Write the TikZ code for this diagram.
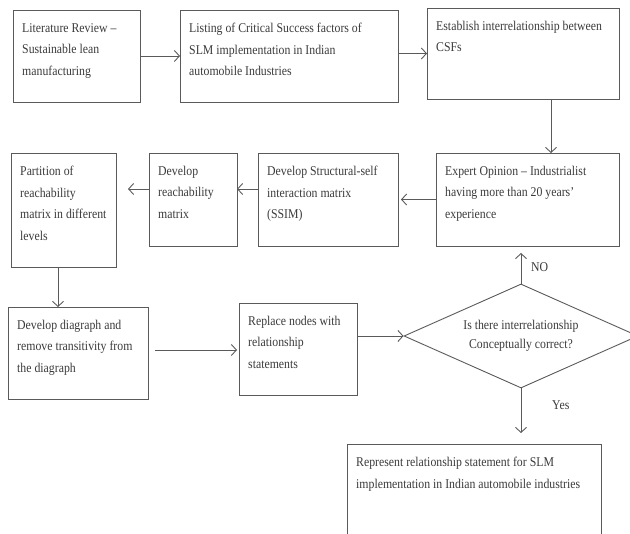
\documentclass[tikz,border=0pt]{standalone}
\usepackage{fontspec}
\setmainfont{Liberation Serif}[FakeStretch=0.88]
\usetikzlibrary{arrows.meta,shapes.geometric,calc}
\definecolor{ink}{HTML}{3A3A3A}
\definecolor{edge}{HTML}{5A5A5A}
\newcommand\flowbox[6]{%
  \node[box, anchor=north west, minimum width={(#4-#2)*1pt}, minimum height={(#5-#3)*1pt}] (#1) at (#2,#3) {};
  \node[txt, anchor=north west] (#1t) at ([xshift=9pt,yshift=-13pt]#1.north west) {#6};
}
\begin{document}
\begin{tikzpicture}[x=1pt,y=-1pt,
  box/.style={draw=edge,line width=0.9pt,rectangle,inner sep=0pt,outer sep=0pt},
  txt/.style={inner sep=0pt,align=left,text=ink,font=\fontsize{13.4}{21.5}\selectfont},
  arr/.style={draw=edge,line width=0.9pt,-{Straight Barb[length=5pt,width=11pt]}},
  lbl/.style={inner sep=0pt,text=ink,font=\fontsize{13.4}{16}\selectfont},
  dia/.style={diamond,draw=edge,line width=0.9pt,aspect=2.25,minimum width=234pt,minimum height=104pt,inner sep=0pt,align=center,text=ink,font=\fontsize{13.4}{19}\selectfont}]
\useasboundingbox (0,0) rectangle (630,534);
\clip (0,0) rectangle (630,534);

\flowbox{b1}{13}{10}{140}{102}{Literature Review –\\Sustainable lean\\manufacturing}
\flowbox{b2}{180}{10}{398}{102}{Listing of Critical Success factors of\\SLM implementation in Indian\\automobile Industries}
\flowbox{b3}{427}{8}{619}{99}{Establish interrelationship between\\CSFs}
\flowbox{expert}{436}{153}{619}{246}{Expert Opinion – Industrialist\\having more than 20 years’\\experience}
\flowbox{ssim}{258}{153}{398}{246}{Develop Structural-self\\interaction matrix\\(SSIM)}
\flowbox{reach}{149}{153}{237}{246}{Develop\\reachability\\matrix}
\flowbox{part}{11}{153}{116}{267}{Partition of\\reachability\\matrix in different\\levels}
\flowbox{diag}{8}{307}{148}{399}{Develop diagraph and\\remove transitivity from\\the diagraph}
\flowbox{repl}{239}{303}{357}{395}{Replace nodes with\\relationship\\statements}
\flowbox{final}{347}{444}{601}{560}{Represent relationship statement for SLM\\implementation in Indian automobile industries}

\node[dia] (q) at (521,336) {Is there interrelationship\\Conceptually correct?};

\node[lbl,anchor=west] (no) at (531,267) {NO};
\node[lbl,anchor=west] (yes) at (552,405) {Yes};

\coordinate (c3) at (551,0);
\coordinate (c2) at (58,0);
\coordinate (r1) at (0,189);
\coordinate (r2) at (0,350);

\draw[arr] (b1.east) -- (b2.west);
\draw[arr] (b2.east |- b3.west) -- (b3.west);
\draw[arr] (b3.south -| c3) -- (expert.north -| c3);
\draw[arr,shorten >=3pt] (expert.west) -- (ssim.east);
\draw[arr] (ssim.west |- r1) -- (reach.east |- r1);
\draw[arr,shorten >=12pt] (reach.west |- r1) -- (part.east |- r1);
\draw[arr] (part.south -| c2) -- (diag.north -| c2);
\draw[arr,shorten <=7pt,shorten >=2pt] (diag.east |- r2) -- (repl.west |- r2);
\draw[arr] (repl.east |- q.west) -- (q.west);
\draw[arr,shorten >=7pt] (q.north) -- (expert.south -| q.north);
\draw[arr,shorten >=11pt] (q.south) -- (final.north -| q.south);
\end{tikzpicture}
\end{document}
